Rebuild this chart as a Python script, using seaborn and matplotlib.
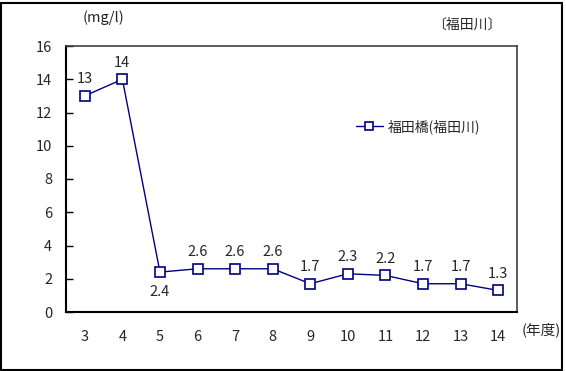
import matplotlib
matplotlib.use("Agg")
import matplotlib.pyplot as plt
import seaborn as sns
import pandas as pd
from matplotlib.patches import Rectangle

years = ["3", "4", "5", "6", "7", "8", "9", "10", "11", "12", "13", "14"]
values = [13, 14, 2.4, 2.6, 2.6, 2.6, 1.7, 2.3, 2.2, 1.7, 1.7, 1.3]
labels = ["13", "14", "2.4", "2.6", "2.6", "2.6", "1.7", "2.3", "2.2", "1.7", "1.7", "1.3"]
series_name = "福田橋(福田川)"

sns.set_style("white")
plt.rcParams['font.family'] = ['Noto Sans CJK JP', 'DejaVu Sans']

df = pd.DataFrame({"pos": range(len(years)), "value": values, "series": series_name})

fig = plt.figure(figsize=(5.66, 3.71), dpi=100)
ax = fig.add_axes([66/566, 1-312/371, (517-66)/566, (312-46)/371])

navy = "#000080"
sns.lineplot(data=df, x="pos", y="value", hue="series", palette=[navy], ax=ax,
             marker="s", markersize=7, markerfacecolor="white", markeredgecolor=navy,
             markeredgewidth=1.2, linewidth=1)

ax.set_xlim(-0.5, len(years) - 0.5)
ax.set_ylim(0, 16)
ax.set_yticks(range(0, 17, 2))
ax.set_xticks(range(len(years)))
ax.set_xticklabels(years)
ax.set_xticks([i - 0.5 for i in range(len(years) + 1)], minor=True)
ax.tick_params(axis="x", which="major", length=0, pad=13, labelsize=10.5)
ax.tick_params(axis="x", which="minor", direction="in", length=5, width=1, color="black")
ax.tick_params(axis="y", direction="in", length=5, width=1, color="black", pad=10, labelsize=10.5, left=True)
ax.set_xlabel("")
ax.set_ylabel("")
for s in ["left", "bottom"]:
    ax.spines[s].set_color("black")
    ax.spines[s].set_linewidth(1.5)
for s in ["top", "right"]:
    ax.spines[s].set_color("#404040")
    ax.spines[s].set_linewidth(1.2)

for i, (v, t) in enumerate(zip(values, labels)):
    if t == "2.4":
        ax.annotate(t, (i, v), xytext=(0, -9), textcoords="offset points",
                    ha="center", va="top", fontsize=10.5)
    else:
        ax.annotate(t, (i, v), xytext=(0, 7), textcoords="offset points",
                    ha="center", va="bottom", fontsize=10.5)

leg = ax.legend(loc="upper left", bbox_to_anchor=((343-66)/451, 1-(107-46)/266),
                frameon=False, fontsize=10, handlelength=2.0, handletextpad=0.3,
                markerscale=0.8)

fig.text(83/566, 1-18/371, "(mg/l)", ha="left", va="center", fontsize=10.5)
fig.text(501/566, 1-25/371, "〔福田川〕", ha="right", va="center", fontsize=10)
fig.text(522/566, 1-330/371, "(年度)", ha="left", va="center", fontsize=10.5)

fig.patches.append(Rectangle((1/566, 1/371), 561/566, 367/371, transform=fig.transFigure,
                             fill=False, edgecolor="black", linewidth=1.5))

fig.savefig("out.png", dpi=100)
